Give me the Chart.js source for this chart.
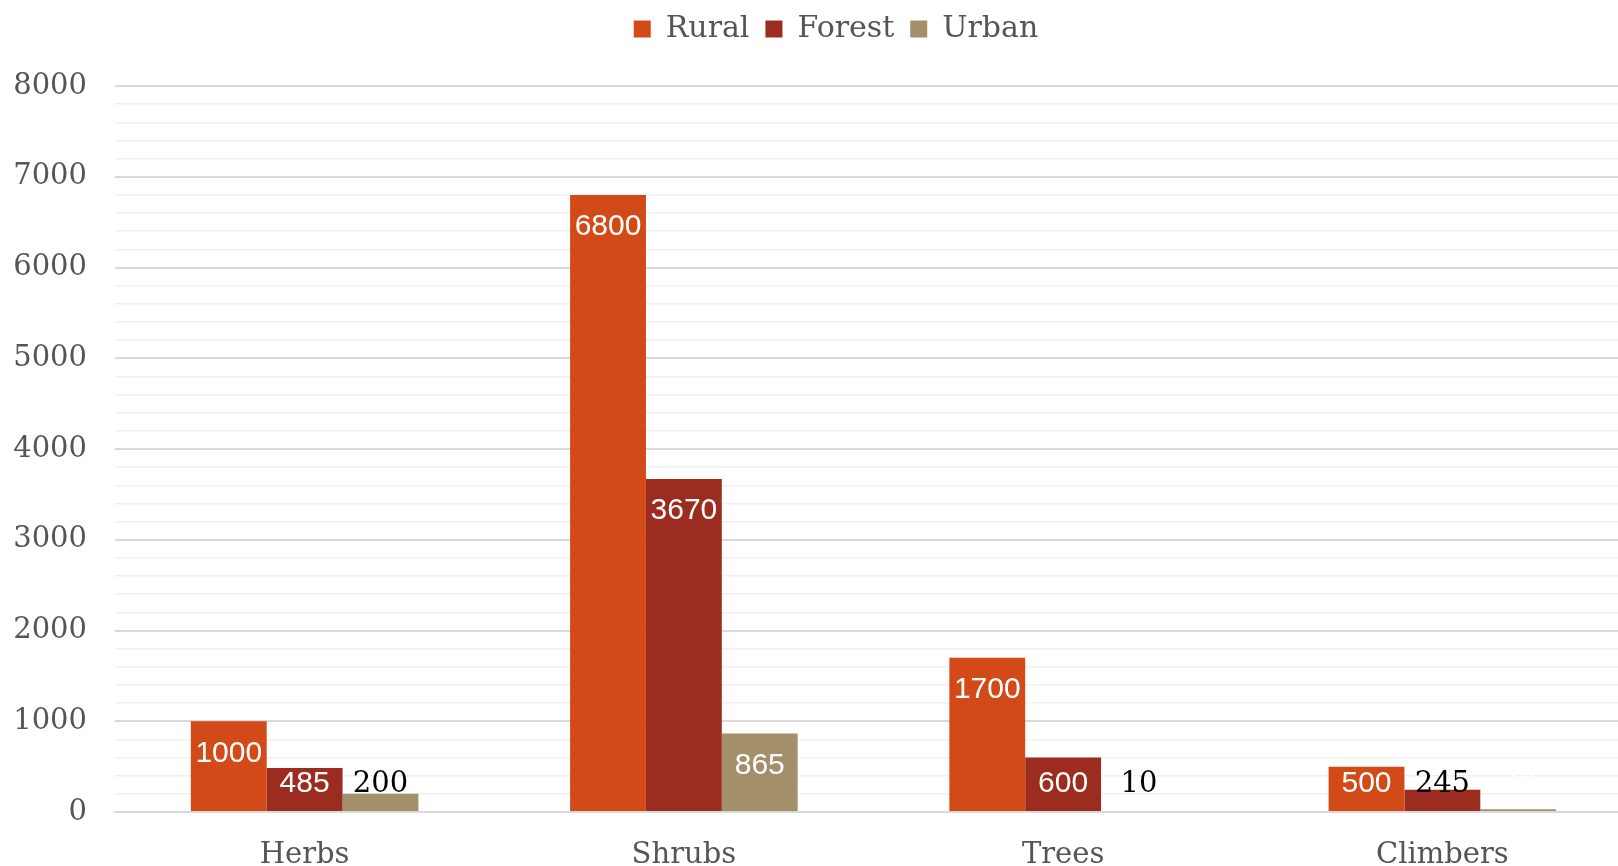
<!DOCTYPE html>
<html>
<head>
<meta charset="utf-8">
<title>Plant habit by habitat</title>
<script src="https://cdn.jsdelivr.net/npm/chart.js@4.4.1/dist/chart.umd.min.js"></script>
<style>
    html, body { margin: 0; padding: 0; background: #fff; overflow: hidden; }
    #wrap { width: 1632px; height: 866px; }
</style>
</head>
<body>
<div id="wrap"><canvas id="chart-habit"></canvas></div>
<script>
/* Grouped bars: plant habit counts per habitat */

const CATEGORIES = ['Herbs', 'Shrubs', 'Trees', 'Climbers'];
const RURAL  = [1000, 6800, 1700, 500];
const FOREST = [485, 3670, 600, 245];
const URBAN  = [200, 865, 10, 30];

const COLORS = { rural: '#d24a17', forest: '#9b2c1f', urban: '#a38f6a' };
const INK = '#555555';
const SERIF = '"DejaVu Serif", serif';
const SANS = '"Liberation Sans", Arial, sans-serif';

// labels that stay white even though they spill over the bar (datasetIndex:index)
const WHITE_OVERRIDE = { '2:3': true };

// value labels: inside the top of the bar, pushed up above the axis when the bar is short
const valueLabels = {
    id: 'valueLabels',
    afterDatasetsDraw(chart) {
        const ctx = chart.ctx;
        ctx.save();
        ctx.textAlign = 'center';
        ctx.textBaseline = 'middle';
        chart.data.datasets.forEach((ds, di) => {
            const meta = chart.getDatasetMeta(di);
            meta.data.forEach((bar, i) => {
                const top = bar.y;
                const y = Math.min(top + 32, bar.base - 27);
                const fits = top <= y - 11;
                const white = fits || WHITE_OVERRIDE[di + ':' + i];
                ctx.fillStyle = white ? '#ffffff' : '#000000';
                ctx.font = (fits ? '30px ' + SANS : '29px ' + SERIF);
                ctx.fillText(String(ds.data[i]), bar.x, y);
            });
        });
        ctx.restore();
    }
};

// legend height and position tweaks
const legendBox = {
    id: 'legendBox',
    beforeInit(chart) {
        const fit = chart.legend.fit;
        chart.legend.fit = function () {
            fit.call(this);
            this.height = 86;
        };
    },
    afterLayout(chart) {
        const lg = chart.legend;
        lg.left += 20; lg.right += 20;
        lg.top -= 2; lg.bottom -= 2;
    }
};

const ctx = document.getElementById('chart-habit').getContext('2d');

new Chart(ctx, {
    type: 'bar',
    data: {
        labels: CATEGORIES,
        datasets: [
            { label: 'Rural',  data: RURAL,  backgroundColor: COLORS.rural },
            { label: 'Forest', data: FOREST, backgroundColor: COLORS.forest },
            { label: 'Urban',  data: URBAN,  backgroundColor: COLORS.urban }
        ]
    },
    options: {
        responsive: true,
        maintainAspectRatio: false,
        animation: false,
        layout: { padding: 0 },
        datasets: { bar: { categoryPercentage: 0.6, barPercentage: 1.0 } },
        plugins: {
            tooltip: { enabled: false },
            legend: {
                position: 'top',
                labels: {
                    color: INK,
                    font: { family: SERIF, size: 30 },
                    boxWidth: 17,
                    boxHeight: 17,
                    padding: 16
                }
            }
        },
        scales: {
            x: {
                grid: { display: false, drawTicks: false },
                border: { display: true, color: '#d9d9d9', width: 2 },
                ticks: { color: INK, font: { family: SERIF, size: 29 }, padding: 26, maxRotation: 0 },
                afterFit(scale) { scale.height = 54; }
            },
            y: {
                min: 0,
                max: 8000,
                border: { display: false },
                grid: {
                    drawTicks: false,
                    color: c => (c.tick.value % 1000 === 0 ? '#d9d9d9' : '#f0f0f0'),
                    lineWidth: c => (c.tick.value % 1000 === 0 ? 2 : 1.5)
                },
                ticks: {
                    stepSize: 200,
                    autoSkip: false,
                    color: INK,
                    font: { family: SERIF, size: 29 },
                    padding: 28,
                    callback: v => (v % 1000 === 0 ? v : '')
                },
                afterFit(scale) { scale.width = 115; }
            }
        }
    },
    plugins: [legendBox, valueLabels]
});
</script>
</body>
</html>
